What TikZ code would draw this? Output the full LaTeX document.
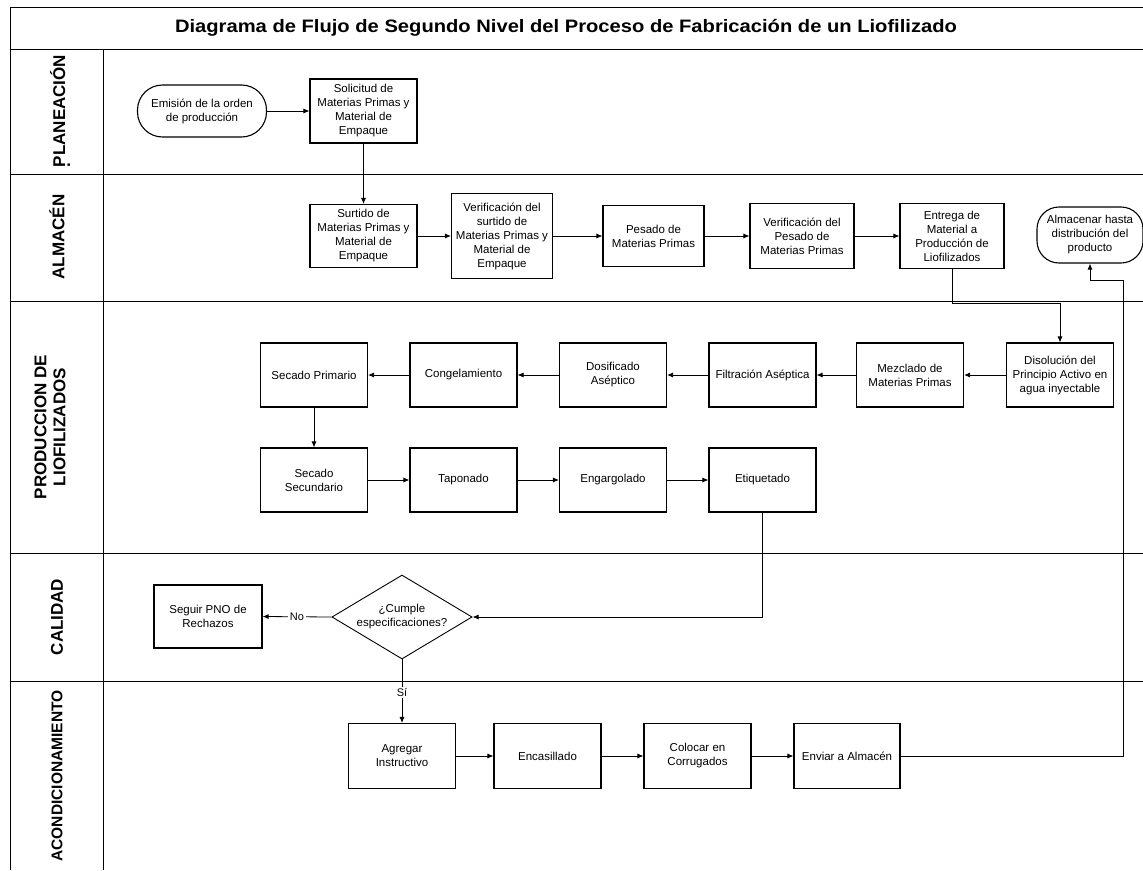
\documentclass[tikz,border=0pt]{standalone}
\usepackage{fontspec}
\setmainfont{Liberation Sans}
\usetikzlibrary{shapes.geometric,arrows.meta}
\begin{document}
\begin{tikzpicture}[x=1pt,y=-1pt,
  proc/.style={draw=black, line width=1.1pt, fill=white, align=center,
    font=\fontsize{11.5}{14}\selectfont, inner sep=1pt,
    minimum width=107pt, minimum height=64pt},
  term/.style={proc, rounded corners=22pt},
  decide/.style={diamond, draw=black, line width=0.9pt, fill=white, aspect=2,
    align=center, font=\fontsize{11.5}{14}\selectfont, inner sep=0pt,
    minimum width=140pt, minimum height=84pt},
  flow/.style={draw=black, line width=0.8pt, -{Latex[length=6pt,width=5pt]}},
  lane/.style={draw=black, line width=1pt},
  lanelabel/.style={rotate=90, font=\bfseries\fontsize{17}{19}\selectfont, align=center},
  tag/.style={fill=white, inner sep=1.5pt, font=\fontsize{11}{12}\selectfont}
]
\useasboundingbox (0,0) rectangle (1143,870);

% swimlane frame
\draw[lane] (1143,7) -- (10,7) -- (10,870);
\draw[lane] (103,49) -- (103,870);
\foreach \yy in {49,174,301,553,681}
  \draw[lane] (10,\yy) -- (1143,\yy);

\node[font=\bfseries\fontsize{18}{20}\selectfont, xscale=1.12] (title) at (566,28)
  {Diagrama de Flujo de Segundo Nivel del Proceso de Fabricación de un Liofilizado};

% lane labels
\node[lanelabel, align=left] (lplan) at (60,111) {PLANEACIÓN\\[-14pt].};
\node[lanelabel] (lalm) at (57,237) {ALMACÉN};
\node[lanelabel] (lprod) at (50,427) {PRODUCCION DE\\LIOFILIZADOS};
\node[lanelabel] (lcal) at (57,617) {CALIDAD};
\node[lanelabel, font=\bfseries\fontsize{15.5}{18}\selectfont] (lacond) at (57,776) {ACONDICIONAMIENTO};

% planeación
\node[term, minimum width=129pt, minimum height=52pt, rounded corners=25pt] (emision) at (202,111)
  {Emisión de la orden\\de producción};
\node[proc] (solicitud) at (363.5,111) {Solicitud de\\Materias Primas y\\Material de\\Empaque};

% almacén
\node[proc, minimum height=63pt] (surtido) at (363.5,236) {Surtido de\\Materias Primas y\\Material de\\Empaque};
\node[proc, minimum width=101pt, minimum height=85pt] (verif1) at (502,236)
  {Verificación del\\surtido de\\Materias Primas y\\Material de\\Empaque};
\node[proc, minimum width=101pt, minimum height=61pt] (pesado) at (653.5,236) {Pesado de\\Materias Primas};
\node[proc, minimum width=104pt, minimum height=65pt] (verif2) at (802,236)
  {Verificación del\\Pesado de\\Materias Primas};
\node[proc, minimum width=104pt, minimum height=65pt] (entrega) at (952,236)
  {Entrega de\\Material a\\Producción de\\Liofilizados};
\node[term, minimum width=106pt, minimum height=56pt] (almacenar) at (1090,235)
  {Almacenar hasta\\distribución del\\producto};

% producción de liofilizados
\node[proc] (secado1) at (314,375) {Secado Primario};
\node[proc] (congel) at (463.5,375) {Congelamiento};
\node[proc] (dosif) at (613,375) {Dosificado\\Aséptico};
\node[proc] (filtr) at (762.5,375) {Filtración Aséptica};
\node[proc] (mezcl) at (910,375) {Mezclado de\\Materias Primas};
\node[proc] (disol) at (1060,375) {Disolución del\\Principio Activo en\\agua inyectable};

\node[proc] (secado2) at (314,480) {Secado\\Secundario};
\node[proc] (tapon) at (463.5,480) {Taponado};
\node[proc] (engarg) at (613,480) {Engargolado};
\node[proc] (etiq) at (762.5,480) {Etiquetado};

% calidad
\node[proc, minimum width=108pt, minimum height=63pt] (seguir) at (208,616.5) {Seguir PNO de\\Rechazos};
\node[decide] (dec) at (402,617) {¿Cumple\\especificaciones?};

% acondicionamiento
\node[proc, minimum height=65pt] (agregar) at (402,756) {Agregar\\Instructivo};
\node[proc, minimum height=65pt] (encas) at (547.5,756) {Encasillado};
\node[proc, minimum height=65pt] (colocar) at (697.5,756) {Colocar en\\Corrugados};
\node[proc, minimum width=106pt, minimum height=65pt] (enviar) at (847,756) {Enviar a Almacén};

% connectors
\coordinate (drop) at (952,303);
\coordinate (ret) at (1123,280);

\draw[flow] (emision) -- (solicitud);
\draw[flow] (solicitud) -- (surtido);
\draw[flow] (surtido) -- (verif1);
\draw[flow] (verif1) -- (pesado);
\draw[flow] (pesado) -- (verif2);
\draw[flow] (verif2) -- (entrega);
\draw[flow] (entrega.south) -- (drop) -| (disol.north);
\draw[flow] (disol) -- (mezcl);
\draw[flow] (mezcl) -- (filtr);
\draw[flow] (filtr) -- (dosif);
\draw[flow] (dosif) -- (congel);
\draw[flow] (congel) -- (secado1);
\draw[flow] (secado1) -- (secado2);
\draw[flow] (secado2) -- (tapon);
\draw[flow] (tapon) -- (engarg);
\draw[flow] (engarg) -- (etiq);
\draw[flow] (etiq.south) |- (dec.east);
\draw[flow] (dec.west) -- node[tag] (lno) {No} (seguir.east);
\draw[flow] (dec.south) -- node[tag, pos=0.52] (lsi) {Sí} (agregar.north);
\draw[flow] (agregar) -- (encas);
\draw[flow] (encas) -- (colocar);
\draw[flow] (colocar) -- (enviar);
\draw[flow] (enviar.east) -| (ret) -| (almacenar.south);
\end{tikzpicture}
\end{document}
